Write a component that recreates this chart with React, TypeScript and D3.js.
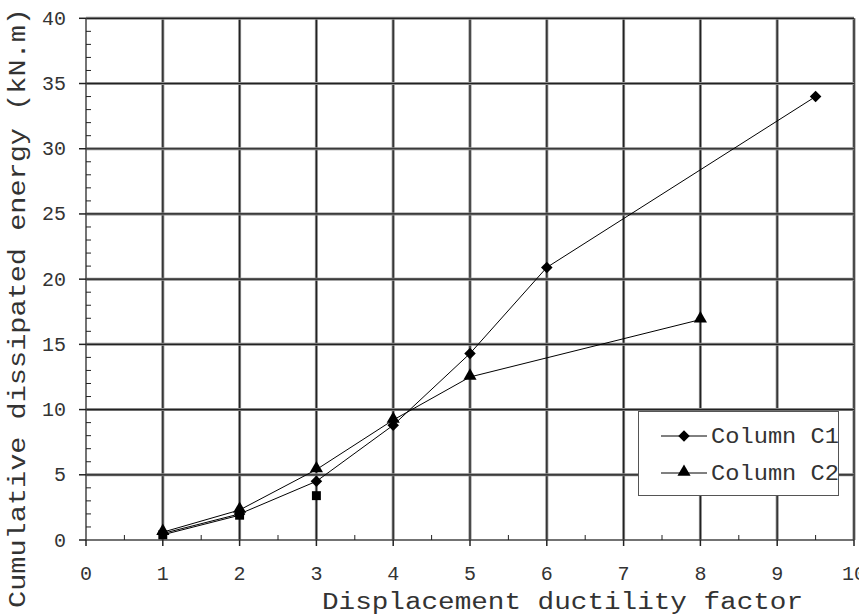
import React from 'react'
import * as d3 from 'd3'

const W = 859
const H = 616

// ductility factor (x) and cumulative energy (kN.m)
const c1X = [1, 2, 3, 4, 5, 6, 9.5]
const c1Y = [0.5, 2.0, 4.5, 8.8, 14.3, 20.9, 34.0]
const c2X = [1, 2, 3, 4, 5, 8]
const c2Y = [0.6, 2.3, 5.4, 9.2, 12.5, 16.9]
const sqX = [1, 2, 3]
const sqY = [0.4, 1.9, 3.4]
const sqLinked = [true, true, false]

const xTicks = [0, 1, 2, 3, 4, 5, 6, 7, 8, 9, 10]
const yTicks = [0, 5, 10, 15, 20, 25, 30, 35, 40]
const legendNames = ['Column C1', 'Column C2']

const font = '"Liberation Mono", "Courier New", monospace'

const x = d3.scaleLinear().domain([0, 10]).range([86, 854])
const y = d3.scaleLinear().domain([0, 40]).range([540, 18.3])

const diamond = d3.symbol().type(d3.symbolDiamond2).size(85)
const triangle = d3.symbol().type(d3.symbolTriangle).size(75)
const square = d3.symbol().type(d3.symbolSquare).size(80)

const GridLine = ({ x1, y1, x2, y2 }) => (
  <g>
    <line x1={x1} y1={y1} x2={x2} y2={y2} stroke="#888" strokeWidth={3} />
    <line x1={x1} y1={y1} x2={x2} y2={y2} stroke="#222" strokeWidth={1.2} />
  </g>
)

const App = () => {
  const pathFor = (xs: number[], ys: number[]) =>
    d3.line<number>()
      .x(i => x(xs[i]))
      .y(i => y(ys[i]))(xs.map((_, i) => i))
  const sqPath = d3
    .line<number>()
    .defined(i => sqLinked[i])
    .x(i => x(sqX[i]))
    .y(i => y(sqY[i]))(sqX.map((_, i) => i))

  const minorX = d3.range(0.5, 10, 1)
  const minorY = d3.range(0, 40, 1).filter(v => v % 5 !== 0)

  return (
    <svg width={W} height={H} style={{ position: 'absolute', left: 0, top: 0, background: '#fff' }}>
      <rect width={W} height={H} fill="#fff" />
      {/* grid */}
      {xTicks.filter(t => t > 0).map(t => (
        <GridLine key={'gx' + t} x1={x(t)} y1={y(40)} x2={x(t)} y2={y(0)} />
      ))}
      {yTicks.filter(t => t > 0).map(t => (
        <GridLine key={'gy' + t} x1={x(0)} y1={y(t)} x2={x(10)} y2={y(t)} />
      ))}
      {/* axes */}
      <line x1={x(0)} y1={y(0)} x2={x(10)} y2={y(0)} stroke="#444" strokeWidth={1.5} />
      <line x1={x(0)} y1={y(0)} x2={x(0)} y2={y(40)} stroke="#444" strokeWidth={1.5} />
      {xTicks.map(t => (
        <g key={'xt' + t}>
          <line x1={x(t)} y1={y(0)} x2={x(t)} y2={y(0) + 6} stroke="#222" strokeWidth={1.5} />
          <text x={x(t)} y={580} textAnchor="middle" fontFamily={font} fontSize={20} fill="#333">
            {t}
          </text>
        </g>
      ))}
      {minorX.map(t => (
        <line key={'mx' + t} x1={x(t)} y1={y(0)} x2={x(t)} y2={y(0) - 5} stroke="#222" strokeWidth={1} />
      ))}
      {yTicks.map(t => (
        <g key={'yt' + t}>
          <line x1={x(0) - 7} y1={y(t)} x2={x(0)} y2={y(t)} stroke="#222" strokeWidth={1.5} />
          <text x={66} y={y(t) + 6.5} textAnchor="end" fontFamily={font} fontSize={20} fill="#333">
            {t}
          </text>
        </g>
      ))}
      {minorY.map(t => (
        <line key={'my' + t} x1={x(0)} y1={y(t)} x2={x(0) + 5} y2={y(t)} stroke="#222" strokeWidth={1} />
      ))}

      {/* series */}
      <path d={pathFor(c1X, c1Y)} fill="none" stroke="#000" strokeWidth={1} />
      <path d={pathFor(c2X, c2Y)} fill="none" stroke="#000" strokeWidth={1} />
      <path d={sqPath} fill="none" stroke="#000" strokeWidth={1} />
      {sqX.map((v, i) => (
        <path key={'s' + i} d={square()} transform={`translate(${x(v)},${y(sqY[i])})`} fill="#000" />
      ))}
      {c1X.map((v, i) => (
        <path key={'d' + i} d={diamond()} transform={`translate(${x(v)},${y(c1Y[i])})`} fill="#000" />
      ))}
      {c2X.map((v, i) => (
        <path key={'t' + i} d={triangle()} transform={`translate(${x(v)},${y(c2Y[i]) - 1})`} fill="#000" />
      ))}

      {/* legend */}
      <rect x={638.5} y={411.5} width={200} height={84} fill="#fff" stroke="#555" strokeWidth={1} />
      {legendNames.map((name, i) => {
        const cy = 436 + i * 37
        return (
          <g key={name}>
            <line x1={661} y1={cy} x2={707} y2={cy} stroke="#000" strokeWidth={1} />
            <path d={i === 0 ? diamond() : triangle()} transform={`translate(684,${cy - (i === 0 ? 0 : 1)})`} fill="#000" />
            <text x={711} y={cy + 7} fontFamily={font} fontSize={22} fill="#333" textLength={128} lengthAdjust="spacingAndGlyphs">
              {name}
            </text>
          </g>
        )
      })}

      {/* titles */}
      <text x={322} y={609} fontFamily={font} fontSize={23} fill="#333" textLength={481} lengthAdjust="spacingAndGlyphs">
        Displacement ductility factor
      </text>
      <text
        transform="translate(25,608) rotate(-90)"
        fontFamily={font}
        fontSize={23}
        fill="#333"
        textLength={600}
        lengthAdjust="spacingAndGlyphs"
      >
        Cumulative dissipated energy (kN.m)
      </text>
    </svg>
  )
}

export default App
